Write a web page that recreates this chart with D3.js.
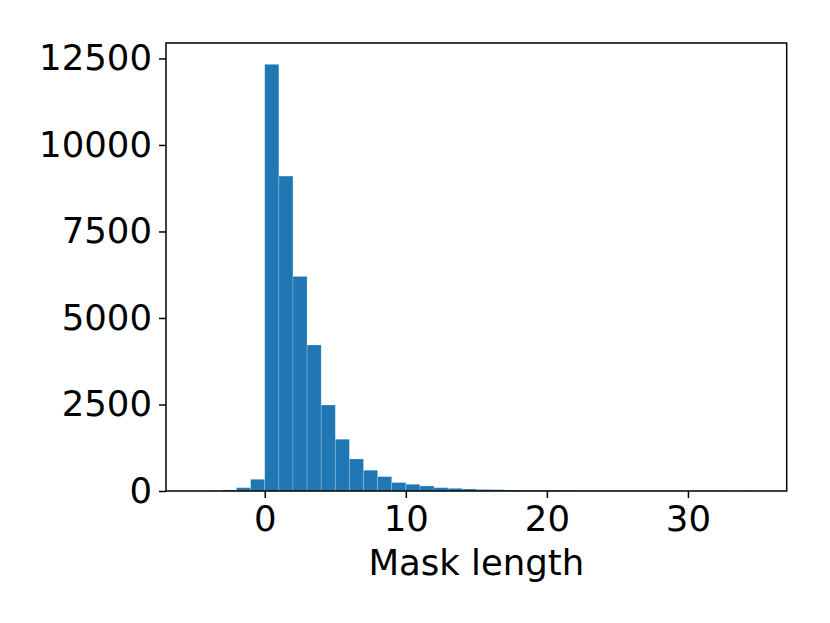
<!DOCTYPE html>
<html>
<head>
<meta charset="utf-8">
<script src="https://cdn.jsdelivr.net/npm/d3@7"></script>
<style>
  body { margin: 0; background: #fff; }
  text { font-family: "DejaVu Sans", sans-serif; fill: #000; }
</style>
</head>
<body>
<div id="chart"></div>
<script>
// histogram bins (left edge) and counts
var binStart = [-5, -4, -3, -2, -1, 0, 1, 2, 3, 4, 5, 6, 7, 8, 9, 10, 11, 12, 13, 14,
                15, 16, 17, 18, 19, 20, 21, 22, 23, 24, 25, 26, 27, 28, 29, 30, 31, 32, 33, 34];
var counts = [0, 5, 30, 96, 338, 12330, 9100, 6200, 4220, 2485, 1495, 925, 600, 415, 245, 194, 145, 96, 77, 58,
              45, 40, 28, 25, 22, 20, 18, 10, 7, 5, 4, 3, 2, 2, 1, 1, 1, 1, 0, 1];
var binWidth = 1;
var xTicks = [0, 10, 20, 30];
var yTicks = [0, 2500, 5000, 7500, 10000, 12500];
var xLabel = "Mask length";

var W = 830, H = 623;
var margin = { top: 43, right: 43.3, bottom: 132, left: 166 };
var width = W - margin.left - margin.right;
var height = H - margin.top - margin.bottom;

var data = binStart.map(function(b, i) { return { x0: b, x1: b + binWidth, n: counts[i] }; });

var lo = d3.min(binStart), hi = d3.max(binStart) + binWidth;
var pad = (hi - lo) * 0.05;
var xScale = d3.scaleLinear()
    .domain([lo - pad, hi + pad])
    .range([0, width]);

var yScale = d3.scaleLinear()
    .domain([0, d3.max(counts) * 1.05])
    .range([height, 0]);

var svg = d3.select('#chart').append('svg')
    .attr("width", W)
    .attr("height", H);

var g = svg.append("g")
    .attr("transform", "translate(" + margin.left + "," + margin.top + ")");

g.selectAll("rect.bar")
    .data(data)
    .enter().append("rect")
    .attr("class", "bar")
    .attr("x", function(d) { return xScale(d.x0); })
    .attr("width", function(d) { return xScale(d.x1) - xScale(d.x0); })
    .attr("y", function(d) { return yScale(d.n); })
    .attr("height", function(d) { return height - yScale(d.n); })
    .attr("fill", "#1f77b4")
    .attr("stroke", "rgba(255,255,255,0.25)")
    .attr("stroke-width", 0.8);

var xAxis = d3.axisBottom(xScale).tickValues(xTicks).tickSize(7).tickPadding(8).tickFormat(d3.format("d"));
var yAxis = d3.axisLeft(yScale).tickValues(yTicks).tickSize(7).tickPadding(7).tickFormat(d3.format("d"));

var gx = g.append("g").attr("transform", "translate(0," + height + ")").call(xAxis);
var gy = g.append("g").call(yAxis);

[gx, gy].forEach(function(a) {
    a.select(".domain").remove();
    a.selectAll(".tick line").attr("stroke", "#000").attr("stroke-width", 1.5);
    a.selectAll(".tick text").style("font-size", "35.5px").style("font-family", "DejaVu Sans");
});

// frame
g.append("rect")
    .attr("width", width)
    .attr("height", height)
    .attr("fill", "none")
    .attr("stroke", "#000")
    .attr("stroke-width", 1.5);

g.append("text")
    .attr("x", width / 2)
    .attr("y", height + 84)
    .attr("text-anchor", "middle")
    .style("font-size", "35.5px")
    .text(xLabel);
</script>
</body>
</html>
